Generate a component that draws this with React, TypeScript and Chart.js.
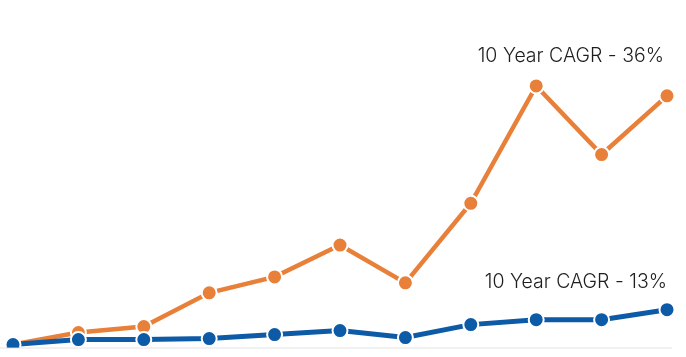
import React, { useEffect, useRef } from "react";
import { Chart, registerables } from "chart.js";

Chart.register(...registerables);

const years = ["2009", "2010", "2011", "2012", "2013", "2014", "2015", "2016", "2017", "2018", "2019"];
const orangeValues = [3, 15, 21, 55, 71, 103, 65, 145, 263, 194, 253];
const blueValues = [3, 8, 8, 9, 13, 17, 10, 23, 28, 28, 38];
const orangeLabel = "10 Year CAGR - 36%";
const blueLabel = "10 Year CAGR - 13%";

const ORANGE = "#E8803A";
const BLUE = "#0D5AA6";

const annotations = {
  id: "annotations",
  beforeDatasetsDraw(chart: any) {
    const { ctx, chartArea, scales } = chart;
    const y0 = scales.y.getPixelForValue(0);
    ctx.save();
    ctx.strokeStyle = "#e3e3e3";
    ctx.lineWidth = 1;
    ctx.beginPath();
    ctx.moveTo(0, y0 + 0.5);
    ctx.lineTo(chartArea.right + 5, y0 + 0.5);
    ctx.stroke();
    ctx.restore();
  },
  afterDraw(chart: any) {
    const { ctx } = chart;
    ctx.save();
    ctx.fillStyle = "#1e1e1e";
    ctx.font = "300 19.5px Inter, Lato, sans-serif";
    ctx.textAlign = "right";
    ctx.textBaseline = "middle";
    ctx.fillText(orangeLabel, 664, 56);
    ctx.fillText(blueLabel, 667, 282);
    ctx.restore();
  },
};

export default function App() {
  const ref = useRef<HTMLCanvasElement>(null);
  useEffect(() => {
    const chart = new Chart(ref.current!, {
      type: "line",
      data: {
        labels: years,
        datasets: [
          {
            data: orangeValues,
            order: 2,
            borderColor: ORANGE,
            backgroundColor: ORANGE,
            borderWidth: 4.5,
            pointRadius: 7.5,
            pointBorderWidth: 2,
            pointBorderColor: "#ffffff",
            pointBackgroundColor: ORANGE,
            tension: 0,
          },
          {
            data: blueValues,
            order: 1,
            borderColor: BLUE,
            backgroundColor: BLUE,
            borderWidth: 5,
            pointRadius: 7.5,
            pointBorderWidth: 2,
            pointBorderColor: "#ffffff",
            pointBackgroundColor: BLUE,
            tension: 0,
          },
        ],
      },
      options: {
        animation: false,
        responsive: true,
        maintainAspectRatio: false,
        layout: { padding: { left: 13, right: 19, top: 70, bottom: 8 } },
        plugins: { legend: { display: false }, tooltip: { enabled: false } },
        scales: {
          x: { display: false, offset: false },
          y: { display: false, min: 0, max: 279 },
        },
      },
      plugins: [annotations],
    });
    return () => chart.destroy();
  }, []);
  return (
    <div style={{ position: "absolute", left: 0, top: 0, width: 686, height: 357, background: "#fff" }}>
      <canvas ref={ref} />
    </div>
  );
}
